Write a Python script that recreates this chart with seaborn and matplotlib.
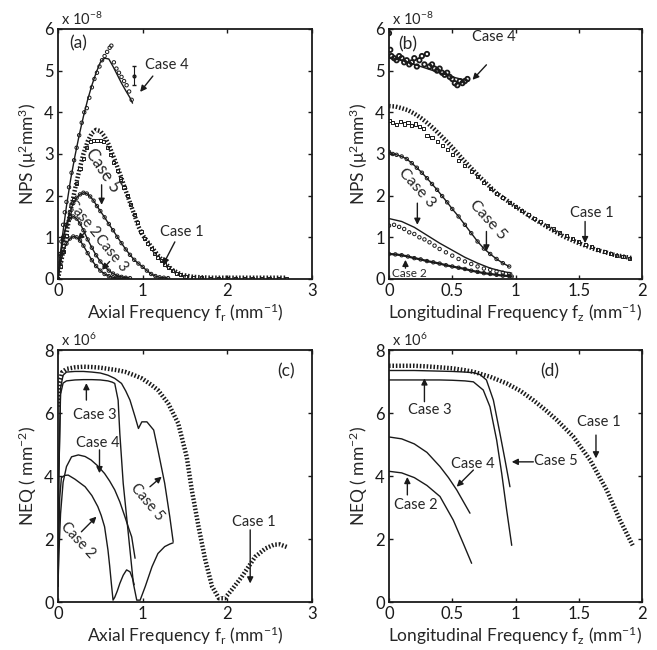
import matplotlib
matplotlib.use("Agg")
import numpy as np
import seaborn as sns
from matplotlib import pyplot as plt

# ---------------- panel (a): NPS vs axial frequency (x1e-8) ----------------
a_c1_line_x = [0, 0.05, 0.1, 0.15, 0.2, 0.25, 0.3, 0.35, 0.4, 0.45, 0.5, 0.55, 0.6, 0.67, 0.75,
               0.81, 0.9, 0.95, 1.0, 1.1, 1.2, 1.26, 1.35, 1.46, 1.6, 1.8, 2.0, 2.3, 2.7]
a_c1_line_y = [0, 0.55, 1.1, 1.65, 2.15, 2.6, 3.0, 3.3, 3.5, 3.58, 3.55, 3.42, 3.22, 2.86, 2.42,
               2.06, 1.55, 1.26, 1.05, 0.78, 0.52, 0.38, 0.22, 0.1, 0.05, 0.03, 0.03, 0.03, 0.03]
a_c1_pts_x = [0.03, 0.06, 0.1, 0.14, 0.18, 0.22, 0.26, 0.3, 0.34, 0.38, 0.42, 0.46, 0.5, 0.54, 0.58,
              0.62, 0.66, 0.7, 0.74, 0.78, 0.82, 0.86, 0.9, 0.94, 0.98, 1.02, 1.06, 1.1, 1.14, 1.18,
              1.22, 1.26, 1.3, 1.35, 1.4, 1.45, 1.5, 1.6, 1.7, 1.8, 1.9, 2.0, 2.1, 2.2, 2.3, 2.4,
              2.5, 2.6, 2.7]
a_c1_pts_y = [0.3, 0.65, 1.05, 1.5, 1.9, 2.3, 2.65, 2.9, 3.15, 3.3, 3.33, 3.33, 3.33, 3.3, 3.15,
              2.98, 2.8, 2.6, 2.4, 2.2, 2.0, 1.78, 1.55, 1.35, 1.15, 0.98, 0.85, 0.74, 0.62, 0.52,
              0.44, 0.36, 0.28, 0.2, 0.14, 0.1, 0.07, 0.04, 0.03, 0.02, 0.02, 0.02, 0.02, 0.02, 0.02,
              0.02, 0.02, 0.02, 0.02]
a_c4_line_x = [0, 0.05, 0.1, 0.15, 0.2, 0.25, 0.3, 0.35, 0.4, 0.45, 0.5, 0.55, 0.6, 0.65, 0.7,
               0.75, 0.8, 0.85, 0.88]
a_c4_line_y = [0, 1.0, 1.75, 2.4, 2.95, 3.45, 3.9, 4.3, 4.65, 4.95, 5.2, 5.3, 5.28, 5.1, 4.9,
               4.7, 4.52, 4.35, 4.22]
a_c4_pts_x = [0.02, 0.04, 0.06, 0.08, 0.1, 0.13, 0.16, 0.19, 0.22, 0.25, 0.28, 0.31, 0.34, 0.37,
              0.4, 0.43, 0.46, 0.49, 0.52, 0.55, 0.58, 0.61, 0.63, 0.66, 0.69, 0.72, 0.75, 0.78,
              0.81, 0.84, 0.87]
a_c4_pts_y = [0.6, 0.9, 1.3, 1.6, 1.85, 2.2, 2.55, 2.85, 3.15, 3.45, 3.75, 4.0, 4.1, 4.35, 4.6,
              4.8, 4.95, 5.1, 5.25, 5.35, 5.45, 5.55, 5.6, 5.2, 5.05, 4.95, 4.85, 4.75, 4.65, 4.5,
              4.3]
a_c5_x = [0, 0.03, 0.06, 0.1, 0.14, 0.18, 0.22, 0.26, 0.3, 0.34, 0.38, 0.42, 0.46, 0.5, 0.55,
          0.6, 0.65, 0.7, 0.75, 0.8, 0.85, 0.9, 0.95, 1.0, 1.05, 1.1, 1.15, 1.2, 1.25, 1.3]
a_c5_y = [0, 0.55, 0.95, 1.3, 1.6, 1.82, 1.95, 2.03, 2.07, 2.05, 1.98, 1.88, 1.75, 1.63, 1.48,
          1.32, 1.17, 1.01, 0.86, 0.71, 0.58, 0.46, 0.37, 0.29, 0.2, 0.12, 0.07, 0.04, 0.03, 0.02]
a_c2_x = [0, 0.03, 0.06, 0.1, 0.14, 0.18, 0.22, 0.26, 0.3, 0.35, 0.4, 0.45, 0.5, 0.55, 0.6,
          0.65, 0.7, 0.75, 0.8, 0.85]
a_c2_y = [0, 0.6, 1.0, 1.3, 1.45, 1.5, 1.45, 1.33, 1.17, 0.95, 0.75, 0.57, 0.42, 0.3, 0.2,
          0.13, 0.08, 0.05, 0.03, 0.02]
a_c3_x = [0, 0.03, 0.06, 0.1, 0.14, 0.18, 0.22, 0.26, 0.3, 0.35, 0.4, 0.45, 0.5, 0.55, 0.6,
          0.65, 0.7, 0.75, 0.8]
a_c3_y = [0, 0.4, 0.65, 0.85, 0.97, 1.02, 1.0, 0.92, 0.8, 0.62, 0.45, 0.31, 0.2, 0.12, 0.07,
          0.04, 0.02, 0.01, 0.01]

# ---------------- panel (b): NPS vs longitudinal frequency (x1e-8) ----------------
b_c1_line_x = [0, 0.05, 0.1, 0.15, 0.2, 0.25, 0.3, 0.35, 0.4, 0.45, 0.5, 0.59, 0.7, 0.85, 1.0,
               1.115, 1.25, 1.38, 1.5, 1.64, 1.78, 1.92]
b_c1_line_y = [4.15, 4.14, 4.1, 4.05, 3.97, 3.87, 3.75, 3.62, 3.47, 3.32, 3.16, 2.85, 2.5, 2.06,
               1.74, 1.5, 1.25, 1.02, 0.86, 0.7, 0.58, 0.5]
b_c1_pts_x = [0, 0.03, 0.06, 0.09, 0.12, 0.15, 0.18, 0.21, 0.24, 0.27, 0.3, 0.34, 0.38, 0.42,
              0.46, 0.5, 0.55, 0.6, 0.65, 0.7, 0.75, 0.8, 0.85, 0.9, 0.95, 1.0, 1.05, 1.1, 1.15,
              1.2, 1.25, 1.3, 1.35, 1.4, 1.45, 1.5, 1.55, 1.6, 1.65, 1.7, 1.75, 1.8, 1.85, 1.9]
b_c1_pts_y = [3.8, 3.75, 3.7, 3.78, 3.72, 3.75, 3.68, 3.72, 3.65, 3.62, 3.45, 3.4, 3.3, 3.2,
              3.1, 2.98, 2.85, 2.72, 2.58, 2.45, 2.32, 2.18, 2.06, 1.95, 1.84, 1.74, 1.64, 1.55,
              1.46, 1.37, 1.28, 1.2, 1.12, 1.04, 0.97, 0.9, 0.83, 0.77, 0.71, 0.66, 0.61, 0.57,
              0.53, 0.5]
b_c4_line_x = [0, 0.1, 0.2, 0.3, 0.4, 0.5, 0.63]
b_c4_line_y = [5.3, 5.25, 5.15, 5.05, 4.95, 4.85, 4.75]
b_c4_pts_x = [0, 0.01, 0.02, 0.04, 0.06, 0.08, 0.1, 0.12, 0.14, 0.16, 0.18, 0.2, 0.22, 0.24,
              0.26, 0.28, 0.3, 0.32, 0.34, 0.36, 0.38, 0.4, 0.42, 0.44, 0.46, 0.48, 0.5, 0.52,
              0.54, 0.56, 0.58, 0.6, 0.62]
b_c4_pts_y = [5.9, 5.5, 5.35, 5.3, 5.25, 5.35, 5.3, 5.2, 5.25, 5.15, 5.2, 5.3, 5.1, 5.25, 5.35,
              5.15, 5.4, 5.1, 5.15, 5.05, 5.0, 5.05, 4.95, 4.9, 4.95, 4.85, 4.8, 4.7, 4.65, 4.75,
              4.7, 4.75, 4.8]
b_c5_x = [0, 0.03, 0.06, 0.1, 0.14, 0.18, 0.22, 0.26, 0.3, 0.34, 0.38, 0.42, 0.46, 0.5, 0.55,
          0.6, 0.65, 0.7, 0.75, 0.8, 0.85, 0.9, 0.95]
b_c5_y = [3.05, 3.0, 2.98, 2.94, 2.88, 2.78, 2.67, 2.55, 2.42, 2.28, 2.14, 1.99, 1.84, 1.68,
          1.5, 1.3, 1.1, 0.9, 0.73, 0.6, 0.48, 0.38, 0.3]
b_c3_line_x = [0, 0.1, 0.2, 0.3, 0.4, 0.5, 0.6, 0.7, 0.8, 0.9, 0.97]
b_c3_line_y = [1.45, 1.38, 1.24, 1.05, 0.86, 0.69, 0.52, 0.38, 0.26, 0.18, 0.14]
b_c3_pts_x = [0, 0.04, 0.08, 0.12, 0.16, 0.2, 0.24, 0.28, 0.32, 0.36, 0.4, 0.45, 0.5, 0.55,
              0.6, 0.65, 0.7, 0.75, 0.8, 0.85, 0.9, 0.95]
b_c3_pts_y = [1.28, 1.3, 1.25, 1.2, 1.12, 1.08, 1.0, 0.95, 0.88, 0.8, 0.72, 0.64, 0.56, 0.48,
              0.42, 0.36, 0.3, 0.25, 0.22, 0.18, 0.15, 0.12]
b_c2_x = [0, 0.05, 0.1, 0.15, 0.2, 0.25, 0.3, 0.35, 0.4, 0.45, 0.5, 0.55, 0.6, 0.65, 0.7, 0.75,
          0.8, 0.85, 0.9, 0.95, 0.97]
b_c2_y = [0.6, 0.59, 0.57, 0.54, 0.5, 0.47, 0.43, 0.4, 0.37, 0.33, 0.3, 0.27, 0.24, 0.2, 0.17,
          0.14, 0.12, 0.1, 0.08, 0.07, 0.06]

# ---------------- panel (c): NEQ vs axial frequency (x1e6) ----------------
c_c1_x = [0, 0.02, 0.05, 0.1, 0.2, 0.3, 0.4, 0.5, 0.6, 0.7, 0.79, 0.9, 0.99, 1.1, 1.18, 1.3,
          1.42, 1.52, 1.58, 1.66, 1.74, 1.82, 1.9, 1.97, 2.05, 2.17, 2.33, 2.45, 2.55, 2.62, 2.7]
c_c1_y = [6.2, 7.0, 7.3, 7.4, 7.45, 7.47, 7.46, 7.44, 7.4, 7.36, 7.31, 7.2, 7.1, 6.9, 6.73,
          6.31, 5.67, 4.61, 3.56, 2.39, 1.33, 0.49, 0.12, 0.12, 0.38, 0.8, 1.44, 1.7, 1.82, 1.83,
          1.75]
c_c5_x = [0, 0.01, 0.03, 0.06, 0.1, 0.2, 0.3, 0.4, 0.5, 0.59, 0.67, 0.75, 0.8, 0.85, 0.91, 0.95,
          0.99, 1.05, 1.13, 1.18, 1.22, 1.26, 1.32, 1.36]
c_c5_y = [0.5, 4.0, 6.8, 7.2, 7.3, 7.32, 7.32, 7.3, 7.27, 7.2, 7.1, 6.94, 6.7, 6.41, 5.88, 5.51,
          5.72, 5.72, 5.46, 4.83, 4.3, 3.77, 2.71, 1.92]
c_c3_x = [0, 0.01, 0.03, 0.06, 0.1, 0.2, 0.3, 0.4, 0.5, 0.59, 0.64, 0.67, 0.71, 0.73, 0.77,
          0.81, 0.85, 0.89, 0.93, 0.97, 1.03, 1.11, 1.18, 1.26, 1.32, 1.36]
c_c3_y = [0.5, 4.0, 6.6, 6.95, 7.02, 7.05, 7.06, 7.06, 7.05, 7.02, 6.98, 6.94, 6.41, 5.35, 3.77,
          2.71, 1.65, 0.59, 0.06, 0.06, 0.49, 1.12, 1.54, 1.76, 1.84, 1.88]
c_c4_x = [0, 0.01, 0.03, 0.06, 0.1, 0.16, 0.24, 0.32, 0.39, 0.47, 0.55, 0.61, 0.67, 0.73, 0.79,
          0.84, 0.87, 0.91]
c_c4_y = [0.5, 1.5, 2.8, 3.8, 4.3, 4.61, 4.67, 4.62, 4.51, 4.32, 4.08, 3.84, 3.56, 3.18, 2.71,
          2.3, 2.07, 1.39]
c_c2_x = [0, 0.01, 0.02, 0.04, 0.08, 0.12, 0.2, 0.32, 0.4, 0.47, 0.51, 0.55, 0.59, 0.61, 0.63,
          0.65, 0.67, 0.7, 0.73, 0.77, 0.81, 0.85, 0.88, 0.9]
c_c2_y = [0.5, 2.0, 3.3, 3.95, 4.02, 4.03, 3.9, 3.66, 3.38, 3.03, 2.75, 2.39, 1.65, 1.15, 0.59,
          0.06, 0.15, 0.35, 0.59, 0.85, 1.02, 0.96, 0.75, 0.55]

# ---------------- panel (d): NEQ vs longitudinal frequency (x1e6) ----------------
d_c1_x = [0, 0.1, 0.2, 0.3, 0.403, 0.5, 0.6, 0.667, 0.8, 0.93, 1.04, 1.14, 1.23, 1.326, 1.457,
          1.589, 1.72, 1.826, 1.926]
d_c1_y = [7.5, 7.5, 7.5, 7.48, 7.45, 7.42, 7.36, 7.31, 7.15, 6.94, 6.7, 6.41, 6.12, 5.78, 5.25,
          4.51, 3.56, 2.6, 1.8]
d_c5_x = [0, 0.1, 0.2, 0.3, 0.4, 0.5, 0.6, 0.67, 0.72, 0.77, 0.825, 0.877, 0.917, 0.956]
d_c5_y = [7.35, 7.35, 7.35, 7.34, 7.33, 7.32, 7.3, 7.28, 7.22, 7.05, 6.41, 5.35, 4.51, 3.66]
d_c3_x = [0, 0.1, 0.2, 0.3, 0.4, 0.5, 0.6, 0.667, 0.745, 0.798, 0.851, 0.891, 0.93, 0.97]
d_c3_y = [7.05, 7.05, 7.05, 7.05, 7.05, 7.04, 7.02, 6.99, 6.73, 6.2, 5.14, 4.08, 2.92, 1.8]
d_c4_x = [0, 0.1, 0.2, 0.3, 0.403, 0.47, 0.535, 0.64]
d_c4_y = [5.24, 5.18, 5.02, 4.75, 4.3, 3.95, 3.56, 2.82]
d_c2_x = [0, 0.1, 0.2, 0.3, 0.403, 0.508, 0.587, 0.653]
d_c2_y = [4.15, 4.1, 3.95, 3.7, 3.35, 2.6, 1.86, 1.23]

FONT = "Lato"
DOTTED = dict(color="k", lw=3.2, ls=(0, (0.35, 0.42)))
CASE_SIZE = 10.5


def solid(ax, x, y, lw=1.0):
    sns.lineplot(x=x, y=y, ax=ax, color="k", lw=lw, sort=False, estimator=None)


def dotted(ax, x, y):
    sns.lineplot(x=x, y=y, ax=ax, sort=False, estimator=None, **DOTTED)


def markers(ax, x, y, marker="o", s=6, lw=0.7):
    sns.scatterplot(x=x, y=y, ax=ax, marker=marker, s=s, color="k", edgecolor="k",
                    linewidth=lw, zorder=3)
    ax.collections[-1].set_facecolor("none")


def label(ax, x, y, txt, rot=0, size=CASE_SIZE):
    ax.text(x, y, txt, ha="center", va="center", rotation=rot, fontsize=size,
            rotation_mode="anchor")


def arrow(ax, tail, tip):
    ax.annotate("", xy=tip, xytext=tail,
                arrowprops=dict(arrowstyle="-|>", color="k", lw=1.0,
                                mutation_scale=9, shrinkA=0, shrinkB=0))


def style(ax, xlim, ylim, xticks, yticks, xlabel, ylabel, exp):
    ax.set_xlim(*xlim)
    ax.set_ylim(*ylim)
    ax.set_xticks(xticks)
    ax.set_xticklabels([("%g" % t) for t in xticks])
    ax.set_yticks(yticks)
    ax.set_xlabel(xlabel, fontsize=12.5, labelpad=2)
    ax.set_ylabel(ylabel, fontsize=12.5, labelpad=4)
    ax.tick_params(direction="in", top=True, right=True, length=3, width=1,
                   labelsize=12, pad=3)
    for sp in ax.spines.values():
        sp.set_linewidth(1.3)
    ax.text(0.01, 1.005, exp, transform=ax.transAxes, ha="left", va="bottom", fontsize=10.5)


sns.set_theme(style="ticks")
plt.rcParams["font.family"] = [FONT, "DejaVu Sans"]
plt.rcParams["mathtext.fontset"] = "custom"
plt.rcParams["mathtext.rm"] = FONT
plt.rcParams["mathtext.it"] = FONT
plt.rcParams["axes.edgecolor"] = "k"
plt.rcParams["xtick.color"] = "k"
plt.rcParams["ytick.color"] = "k"

fig = plt.figure(figsize=(6.57, 6.5), dpi=100)
ax_a = fig.add_axes([0.0883, 0.5708, 0.3866, 0.3846])
ax_b = fig.add_axes([0.5921, 0.5708, 0.3851, 0.3846])
ax_c = fig.add_axes([0.0883, 0.0738, 0.3866, 0.3877])
ax_d = fig.add_axes([0.5921, 0.0738, 0.3851, 0.3877])

axial = r"Axial Frequency f$_\mathrm{r}$ (mm$^\mathrm{-1}$)"
longi = r"Longitudinal Frequency f$_\mathrm{z}$ (mm$^\mathrm{-1}$)"
nps = r"NPS (μ$^\mathrm{2}$mm$^\mathrm{3}$)"
neq = r"NEQ ( mm$^\mathrm{-2}$)"

# (a)
ax = ax_a
dotted(ax, a_c1_line_x, a_c1_line_y)
markers(ax, a_c1_pts_x, a_c1_pts_y, marker="s", s=5)
solid(ax, a_c4_line_x, a_c4_line_y)
markers(ax, a_c4_pts_x, a_c4_pts_y)
solid(ax, a_c5_x, a_c5_y)
markers(ax, a_c5_x, a_c5_y)
solid(ax, a_c2_x, a_c2_y)
markers(ax, a_c2_x, a_c2_y)
solid(ax, a_c3_x, a_c3_y)
markers(ax, a_c3_x, a_c3_y)
ax.errorbar([0.9], [4.88], yerr=[[0.23], [0.23]], fmt="o", ms=2, color="k", capsize=1.5,
            elinewidth=0.8, mfc="none")
style(ax, (0, 3), (0, 6), [0, 1, 2, 3], [0, 1, 2, 3, 4, 5, 6], axial, nps,
      r"x 10$^\mathrm{-8}$")
ax.text(0.24, 5.66, "(a)", ha="center", va="center", fontsize=12.5)
label(ax, 1.29, 5.14, "Case 4")
arrow(ax, (1.12, 4.87), (0.97, 4.49))
label(ax, 1.46, 1.13, "Case 1")
arrow(ax, (1.38, 0.89), (1.24, 0.34))
label(ax, 0.53, 2.6, "Case 5", rot=-56, size=12)
arrow(ax, (0.515, 2.26), (0.515, 1.78))
label(ax, 0.30, 1.46, "Case 2", rot=-50)
arrow(ax, (0.33, 1.14), (0.23, 0.94))
label(ax, 0.63, 0.62, "Case 3", rot=-50)
arrow(ax, (0.61, 0.42), (0.52, 0.22))

# (b)
ax = ax_b
dotted(ax, b_c1_line_x, b_c1_line_y)
markers(ax, b_c1_pts_x, b_c1_pts_y, marker="s", s=5)
solid(ax, b_c4_line_x, b_c4_line_y)
markers(ax, b_c4_pts_x, b_c4_pts_y, s=10, lw=1.3)
solid(ax, b_c5_x, b_c5_y)
markers(ax, b_c5_x, b_c5_y)
solid(ax, b_c3_line_x, b_c3_line_y)
markers(ax, b_c3_pts_x, b_c3_pts_y)
solid(ax, b_c2_x, b_c2_y, lw=1.6)
markers(ax, b_c2_x, b_c2_y)
style(ax, (0, 2), (0, 6), [0, 0.5, 1, 1.5, 2], [0, 1, 2, 3, 4, 5, 6], longi, nps,
      r"x 10$^\mathrm{-8}$")
ax.text(0.15, 5.62, "(b)", ha="center", va="center", fontsize=12.5)
label(ax, 0.83, 5.81, "Case 4")
arrow(ax, (0.77, 5.14), (0.66, 4.78))
label(ax, 1.6, 1.58, "Case 1")
arrow(ax, (1.55, 1.38), (1.55, 0.86))
label(ax, 0.785, 1.42, "Case 5", rot=-48, size=11.5)
arrow(ax, (0.77, 1.14), (0.77, 0.66))
label(ax, 0.22, 2.18, "Case 3", rot=-48, size=11.5)
arrow(ax, (0.224, 1.82), (0.224, 1.30))
label(ax, 0.16, 0.14, "Case 2", size=8.5)
arrow(ax, (0.13, 0.26), (0.13, 0.46))

# (c)
ax = ax_c
dotted(ax, c_c1_x, c_c1_y)
solid(ax, c_c5_x, c_c5_y)
solid(ax, c_c3_x, c_c3_y)
solid(ax, c_c4_x, c_c4_y)
solid(ax, c_c2_x, c_c2_y)
style(ax, (0, 3), (0, 8), [0, 1, 2, 3], [0, 2, 4, 6, 8], axial, neq, r"x 10$^\mathrm{6}$")
ax.text(2.69, 7.31, "(c)", ha="center", va="center", fontsize=12.5)
label(ax, 0.435, 5.94, "Case 3")
arrow(ax, (0.335, 6.41), (0.335, 6.95))
label(ax, 0.466, 5.06, "Case 4")
arrow(ax, (0.49, 4.83), (0.49, 4.09))
label(ax, 1.047, 3.18, "Case 5", rot=-50)
arrow(ax, (1.086, 3.66), (1.225, 3.98))
label(ax, 0.237, 1.97, "Case 2", rot=-47)
arrow(ax, (0.276, 2.23), (0.454, 2.71))
label(ax, 2.31, 2.55, "Case 1")
arrow(ax, (2.27, 2.29), (2.27, 0.59))

# (d)
ax = ax_d
dotted(ax, d_c1_x, d_c1_y)
solid(ax, d_c5_x, d_c5_y)
solid(ax, d_c3_x, d_c3_y)
solid(ax, d_c4_x, d_c4_y)
solid(ax, d_c2_x, d_c2_y)
style(ax, (0, 2), (0, 8), [0, 0.5, 1, 1.5, 2], [0, 2, 4, 6, 8], longi, neq,
      r"x 10$^\mathrm{6}$")
ax.text(1.27, 7.31, "(d)", ha="center", va="center", fontsize=12.5)
label(ax, 0.32, 6.1, "Case 3")
arrow(ax, (0.28, 6.36), (0.28, 7.1))
label(ax, 1.655, 5.72, "Case 1")
arrow(ax, (1.636, 5.30), (1.636, 4.56))
label(ax, 1.32, 4.48, "Case 5")
arrow(ax, (1.141, 4.45), (0.97, 4.45))
label(ax, 0.659, 4.39, "Case 4")
arrow(ax, (0.667, 4.19), (0.535, 3.66))
label(ax, 0.21, 3.08, "Case 2")
arrow(ax, (0.145, 3.4), (0.145, 3.97))

fig.savefig("out.png", dpi=100)
